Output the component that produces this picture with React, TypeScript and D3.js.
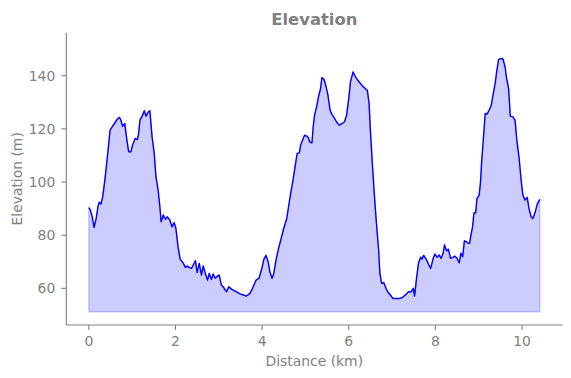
import React from "react";
import * as d3 from "d3";

const distance: number[] = [
  0.0, 0.03, 0.08, 0.12, 0.17, 0.21, 0.24, 0.28, 0.32, 0.37, 0.42, 0.46, 0.49, 0.55, 0.61, 0.66, 0.71, 0.74, 0.78, 0.83,
  0.88, 0.92, 0.97, 1.01, 1.07, 1.12, 1.15, 1.18, 1.23, 1.28, 1.32, 1.37, 1.41, 1.46, 1.51, 1.55, 1.6, 1.64, 1.67, 1.72,
  1.77, 1.81, 1.87, 1.92, 1.97, 2.01, 2.06, 2.11, 2.18, 2.23, 2.27, 2.32, 2.37, 2.41, 2.46, 2.5, 2.55, 2.6, 2.64, 2.69,
  2.74, 2.78, 2.83, 2.87, 2.92, 2.97, 3.01, 3.06, 3.1, 3.18, 3.23, 3.3, 3.41, 3.49, 3.57, 3.64, 3.72, 3.78, 3.86, 3.93,
  4.0, 4.04, 4.09, 4.14, 4.18, 4.23, 4.27, 4.32, 4.38, 4.44, 4.5, 4.57, 4.61, 4.66, 4.72, 4.76, 4.81, 4.86, 4.89, 4.94,
  4.98, 5.03, 5.07, 5.1, 5.15, 5.18, 5.21, 5.26, 5.3, 5.35, 5.38, 5.43, 5.47, 5.52, 5.57, 5.61, 5.66, 5.72, 5.78, 5.84,
  5.9, 5.95, 6.0, 6.04, 6.1, 6.15, 6.21, 6.27, 6.32, 6.38, 6.43, 6.47, 6.5, 6.55, 6.6, 6.64, 6.69, 6.72, 6.76, 6.81,
  6.86, 6.9, 6.96, 7.02, 7.1, 7.18, 7.26, 7.33, 7.38, 7.44, 7.49, 7.52, 7.56, 7.61, 7.66, 7.69, 7.73, 7.79, 7.85, 7.89,
  7.95, 7.99, 8.04, 8.09, 8.13, 8.18, 8.21, 8.26, 8.3, 8.35, 8.41, 8.45, 8.5, 8.55, 8.59, 8.63, 8.67, 8.72, 8.76, 8.79,
  8.82, 8.86, 8.89, 8.93, 8.96, 9.01, 9.04, 9.07, 9.1, 9.15, 9.19, 9.24, 9.29, 9.33, 9.38, 9.42, 9.46, 9.52, 9.56, 9.61,
  9.64, 9.69, 9.73, 9.79, 9.84, 9.88, 9.93, 9.98, 10.02, 10.07, 10.12, 10.16, 10.21, 10.25, 10.3, 10.35, 10.41,
];

const elevation: number[] = [
  90.4, 89.7, 86.9, 82.9, 86.3, 90.7, 92.4, 91.7, 94.4, 100.7, 108.2, 114.5, 119.5, 121.0, 122.5, 123.8, 124.3, 123.3, 121.0, 122.0,
  115.7, 111.4, 111.4, 113.9, 116.4, 116.0, 118.3, 123.3, 124.8, 126.8, 124.8, 126.3, 126.8, 117.0, 110.8, 102.0, 97.0, 90.7, 85.0, 87.6,
  86.0, 86.9, 85.7, 83.2, 84.7, 82.6, 75.6, 70.9, 69.5, 67.9, 68.4, 67.8, 67.5, 68.8, 70.4, 65.9, 69.4, 65.0, 68.4, 65.6,
  63.1, 65.6, 63.4, 65.4, 63.8, 64.6, 65.0, 61.2, 60.6, 58.7, 60.6, 59.6, 58.7, 57.9, 57.5, 57.1, 58.1, 60.0, 63.1, 63.8,
  67.9, 70.9, 72.4, 70.0, 66.2, 63.8, 65.6, 70.6, 75.0, 78.8, 82.6, 86.3, 90.7, 95.7, 101.4, 105.7, 110.8, 111.0, 113.9, 116.0,
  117.6, 117.3, 116.6, 115.1, 114.7, 120.8, 125.1, 128.5, 132.0, 135.2, 139.3, 138.6, 136.4, 132.7, 127.0, 125.5, 124.3, 122.6, 121.4, 122.0,
  122.6, 125.1, 131.4, 137.7, 141.4, 139.8, 138.3, 137.1, 136.1, 135.2, 134.5, 129.5, 119.5, 105.7, 93.2, 84.4, 74.4, 65.6, 61.9, 62.1,
  60.0, 58.7, 57.5, 56.2, 56.2, 56.2, 56.8, 57.9, 58.7, 58.7, 60.0, 57.1, 63.1, 69.4, 71.7, 71.0, 72.4, 70.9, 68.8, 67.5,
  71.3, 72.9, 71.7, 72.5, 71.3, 73.2, 76.3, 74.1, 74.7, 71.3, 71.7, 72.1, 71.3, 69.6, 73.2, 71.9, 77.9, 77.5, 76.9, 76.9,
  80.0, 83.2, 88.4, 88.4, 93.8, 95.1, 99.5, 108.2, 114.5, 125.8, 125.5, 127.0, 128.9, 132.7, 137.1, 142.1, 146.1, 146.5, 146.3, 143.3,
  139.5, 135.2, 124.8, 124.5, 123.3, 115.8, 109.5, 100.7, 95.1, 93.2, 94.2, 90.1, 86.9, 86.3, 88.4, 91.6, 93.5,
];

const baseElevation = 51.2;
const xTicks: number[] = [0, 2, 4, 6, 8, 10];
const yTicks: number[] = [60, 80, 100, 120, 140];
const title = "Elevation";
const xLabel = "Distance (km)";
const yLabel = "Elevation (m)";

export default function App() {
  const W = 571;
  const H = 378;
  const left = 66.3;
  const right = 562.3;
  const top = 32.7;
  const bottom = 325;
  const gray = "#808080";
  const font = "DejaVu Sans, sans-serif";

  const x = d3.scaleLinear().domain([-0.52, 10.93]).range([left, right]);
  const y = d3.scaleLinear().domain([46.2, 156.2]).range([bottom, top]);

  const pts = distance.map((d, i) => [d, elevation[i]] as [number, number]);
  const area = d3
    .area<[number, number]>()
    .x((p) => x(p[0]))
    .y0(() => y(baseElevation))
    .y1((p) => y(p[1]));
  const line = d3
    .line<[number, number]>()
    .x((p) => x(p[0]))
    .y((p) => y(p[1]));

  const cx = (left + right) / 2;
  const cy = (top + bottom) / 2;

  return (
    <svg
      width={W}
      height={H}
      style={{ position: "absolute", left: 0, top: 0, background: "#fff" }}
      fontFamily={font}
    >
      <rect x={0} y={0} width={W} height={H} fill="#fff" />
      <path
        d={area(pts) || ""}
        fill="rgba(0,0,255,0.2)"
        stroke="rgba(0,0,255,0.2)"
        strokeWidth={1.4}
      />
      <path d={line(pts) || ""} fill="none" stroke="#0000ff" strokeWidth={1.4} strokeLinejoin="round" />

      {/* spines */}
      <line x1={left} x2={left} y1={top} y2={bottom} stroke={gray} strokeWidth={1.1} />
      <line x1={left} x2={right} y1={bottom} y2={bottom} stroke={gray} strokeWidth={1.1} />

      {xTicks.map((t) => (
        <g key={"x" + t}>
          <line x1={x(t)} x2={x(t)} y1={bottom} y2={bottom + 4.9} stroke={gray} strokeWidth={1.1} />
          <text x={x(t)} y={bottom + 20.5} textAnchor="middle" fontSize={13.9} fill={gray}>
            {t}
          </text>
        </g>
      ))}
      {yTicks.map((t) => (
        <g key={"y" + t}>
          <line x1={left - 4.9} x2={left} y1={y(t)} y2={y(t)} stroke={gray} strokeWidth={1.1} />
          <text x={left - 11} y={y(t) + 5} textAnchor="end" fontSize={13.9} fill={gray}>
            {t}
          </text>
        </g>
      ))}

      <text x={cx} y={24.5} textAnchor="middle" fontSize={16.4} fontWeight="bold" fill={gray}>
        {title}
      </text>
      <text x={cx} y={366} textAnchor="middle" fontSize={13.9} fill={gray}>
        {xLabel}
      </text>
      <text
        transform={`translate(21.5,${cy}) rotate(-90)`}
        textAnchor="middle"
        fontSize={13.9}
        fill={gray}
      >
        {yLabel}
      </text>
    </svg>
  );
}
